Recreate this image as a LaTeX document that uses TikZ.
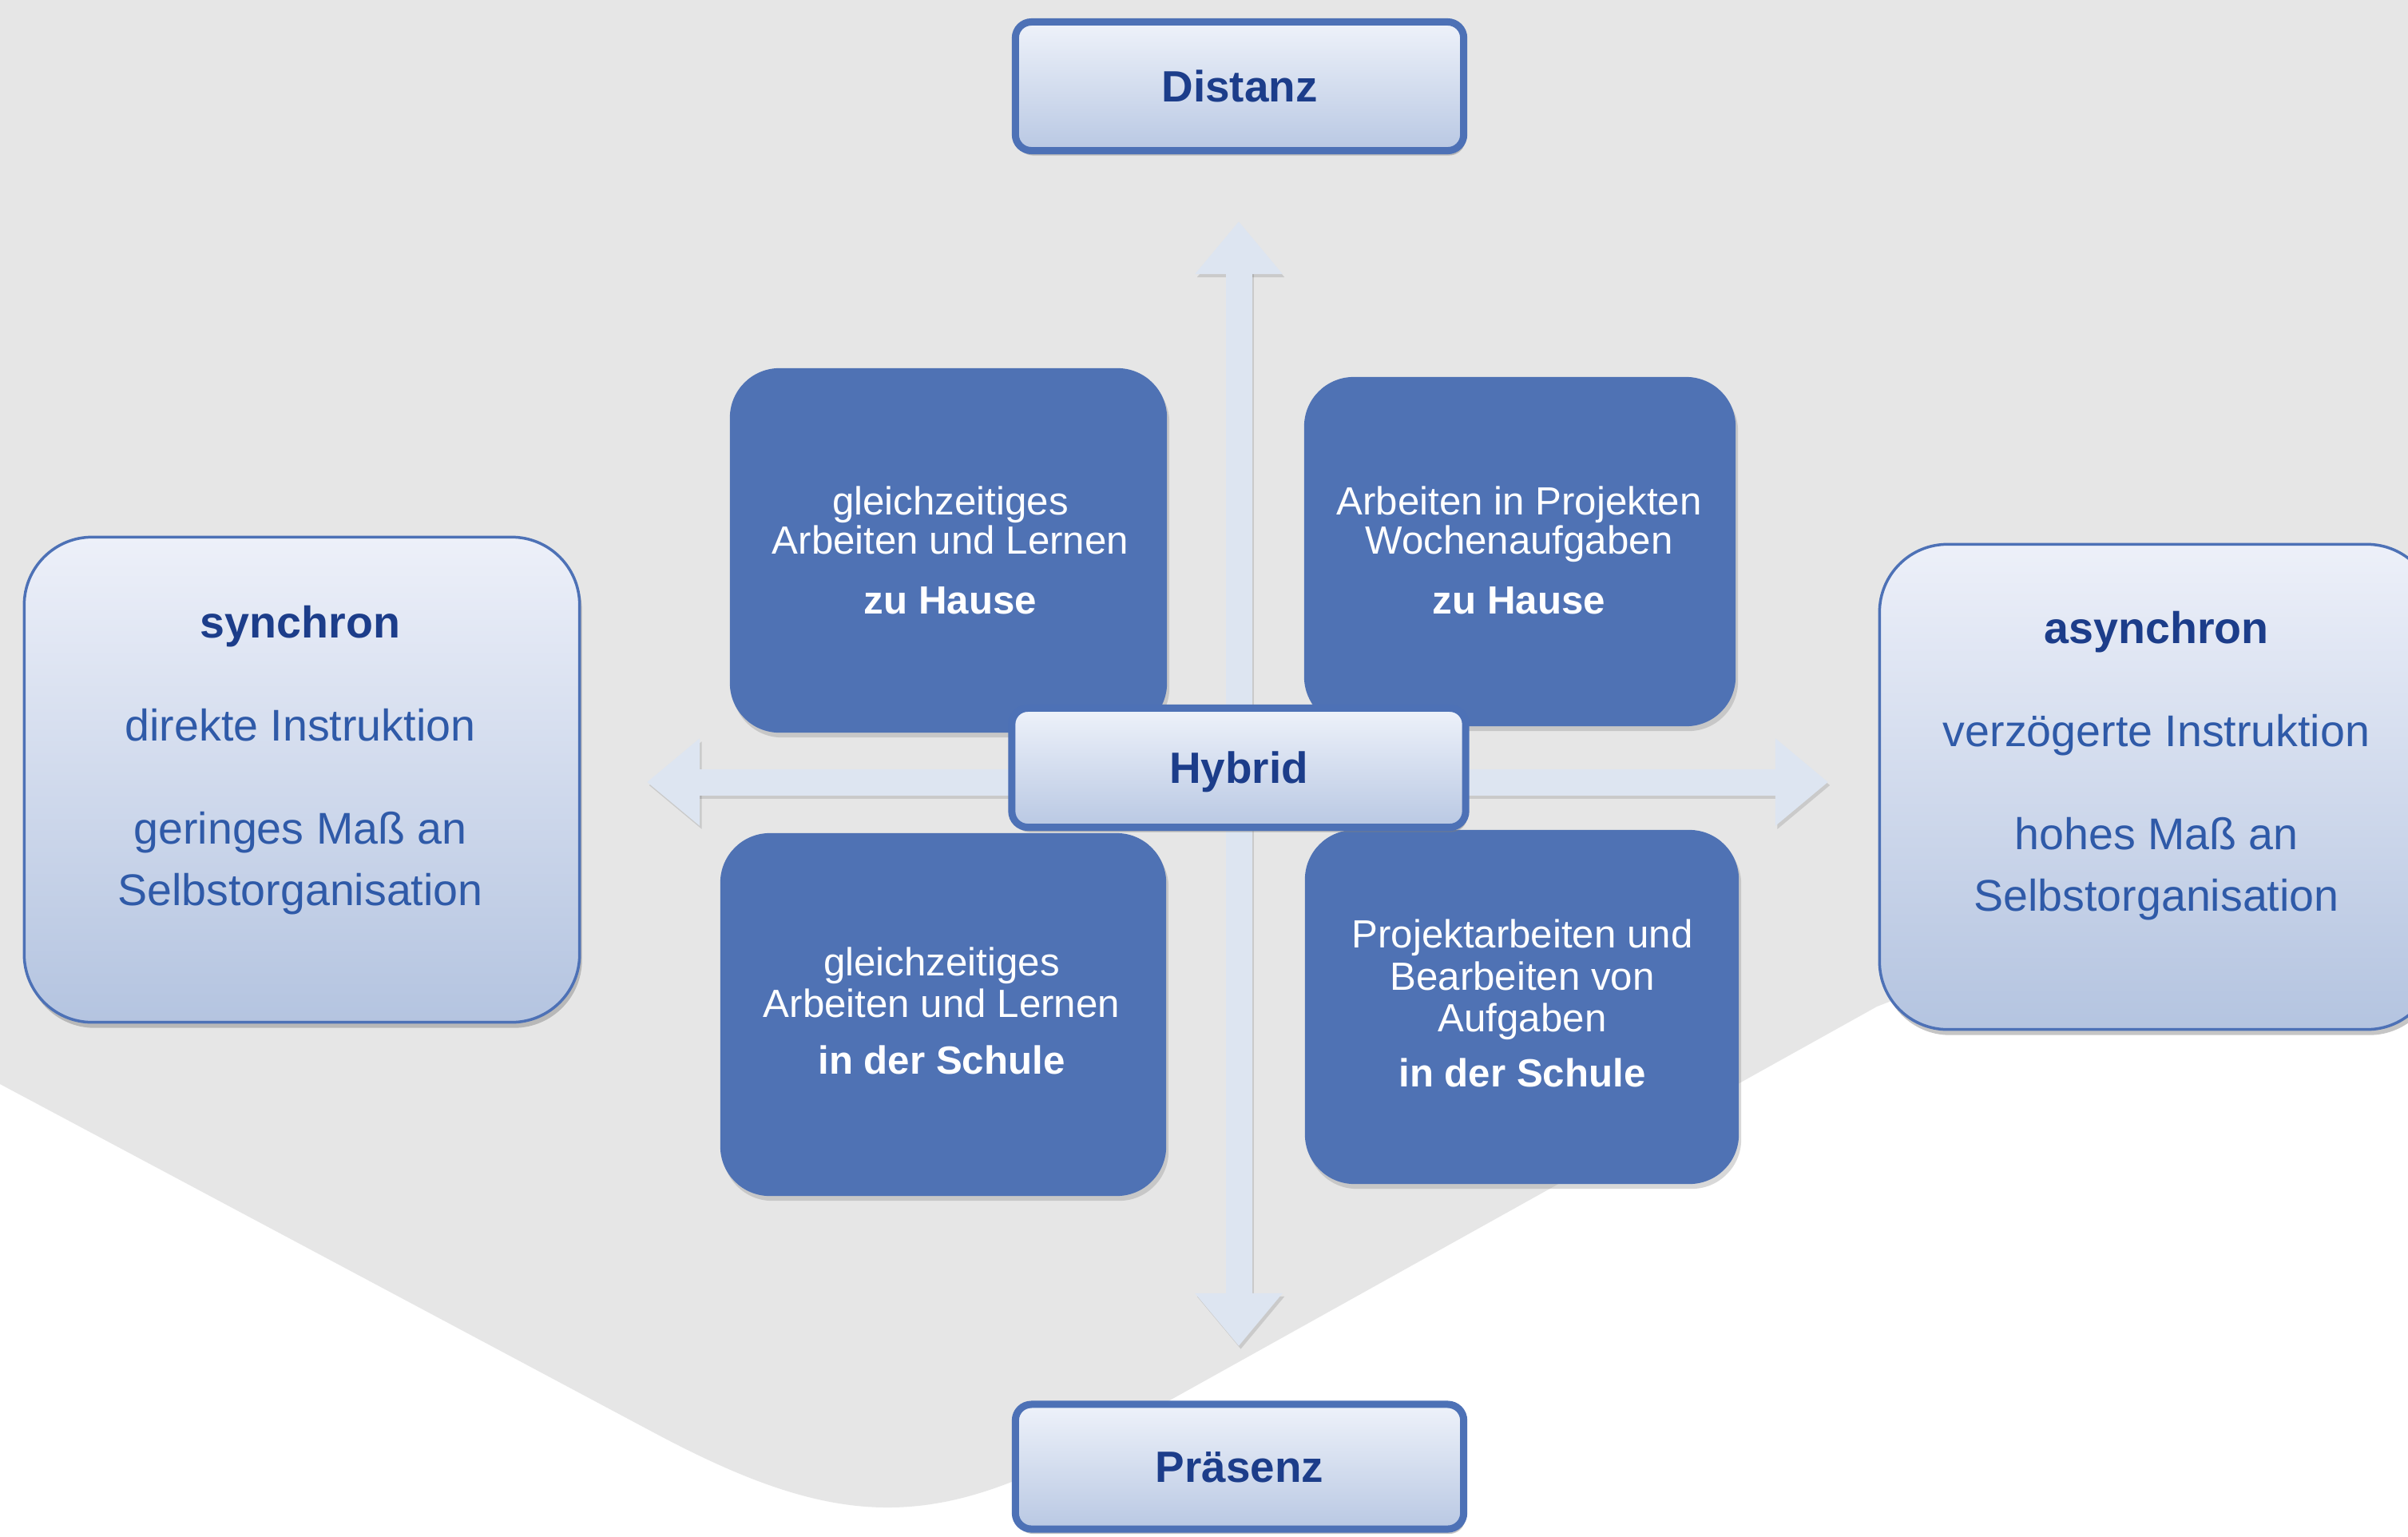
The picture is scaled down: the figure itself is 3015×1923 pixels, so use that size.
\documentclass[tikz,border=0pt]{standalone}
\usepackage{fontspec}
\setmainfont{Liberation Sans}
\usetikzlibrary{shadows,arrows.meta}
\definecolor{bggrey}{HTML}{E6E6E6}
\definecolor{boxblue}{HTML}{4F72B4}
\definecolor{edgeblue}{HTML}{4D71B6}
\definecolor{pilltop}{HTML}{EEF2FA}
\definecolor{pillbot}{HTML}{B9C8E3}
\definecolor{sidetop}{HTML}{EDF0F9}
\definecolor{sidebot}{HTML}{B4C4E0}
\definecolor{headblue}{HTML}{1C3D8A}
\definecolor{bodyblue}{HTML}{2F5AA8}
\definecolor{arrowfill}{HTML}{DDE5F1}
\pgfdeclarelayer{bg}
\pgfdeclarelayer{arr}
\pgfsetlayers{bg,arr,main}
\begin{document}
\begin{tikzpicture}[x=0.01cm,y=-0.01cm,
  pill/.style={draw=edgeblue, line width=0.09cm, rounded corners=0.2cm,
    top color=pilltop, bottom color=pillbot, text=headblue,
    font=\bfseries\fontsize{15.6}{18}\selectfont, minimum width=5.61cm, text depth=0pt,
    drop shadow={shadow xshift=0.02cm, shadow yshift=-0.06cm, opacity=0.45}},
  sidebox/.style={draw=edgeblue, line width=0.035cm, rounded corners=0.85cm,
    top color=sidetop, bottom color=sidebot, minimum width=6.95cm, minimum height=6.07cm,
    drop shadow={shadow xshift=0.03cm, shadow yshift=-0.07cm, opacity=0.45}},
  quad/.style={fill=boxblue, rounded corners=0.62cm,
    drop shadow={shadow xshift=0.03cm, shadow yshift=-0.06cm, opacity=0.3}},
  quadtxt/.style={text=white, align=center, font=\fontsize{14}{14}\selectfont},
  sidetxt/.style={text=bodyblue, align=center, font=\fontsize{15.8}{21.9}\selectfont},
  axis/.style={line width=0.33cm, draw=arrowfill, fill=arrowfill,
    -{Triangle[width=1.05cm,length=0.66cm]}},
  axisshadow/.style={axis, draw=black, fill=black, opacity=0.12,
    transform canvas={shift={(0.025cm,-0.04cm)}}}
]
\useasboundingbox (0,0) rectangle (3015,1923);
\begin{pgfonlayer}{bg}
  \fill[white] (0,0) rectangle (3015,1923);
  \fill[bggrey] (0,0) -- (3015,0) -- (3015,1000) -- (2350,1260) -- (1380,1800)
    .. controls (1171,1917) and (1051,1917) .. (820,1794) -- (0,1357) -- cycle;
\end{pgfonlayer}

% blue quadrant boxes
\node[quad, minimum width=5.47cm, minimum height=4.56cm] (tl) at (1187.5,689) {};
\node[quad, minimum width=5.40cm, minimum height=4.37cm] (tr) at (1903,690.5) {};
\node[quad, minimum width=5.58cm, minimum height=4.54cm] (bl) at (1181,1270) {};
\node[quad, minimum width=5.43cm, minimum height=4.43cm] (br) at (1905.5,1260.5) {};

\node[quadtxt] (tlt) at (1190,689) {gleichzeitiges\\Arbeiten und Lernen\\[7.4pt]\textbf{zu Hause}};
\node[quadtxt] (trt) at (1902,689) {Arbeiten in Projekten\\Wochenaufgaben\\[7.4pt]\textbf{zu Hause}};
\node[quadtxt, font=\fontsize{14}{14.8}\selectfont] (blt) at (1179,1265) {gleichzeitiges\\Arbeiten und Lernen\\[5.4pt]\textbf{in der Schule}};
\node[quadtxt, font=\fontsize{14}{15}\selectfont] (brt) at (1906,1256) {Projektarbeiten und\\Bearbeiten von\\Aufgaben\\[4.6pt]\textbf{in der Schule}};

% centre and axis end boxes
\node[pill, minimum height=1.49cm, minimum width=5.68cm] (hyb) at (1551,961) {Hybrid};
\node[pill, minimum height=1.61cm] (dist) at (1552,108) {Distanz};
\node[pill, minimum height=1.56cm] (praes) at (1552,1836) {Präsenz};

% side boxes
\node[sidebox] (syn) at (378,976) {};
\node[sidetxt] (synt) at (376,952) {\textbf{\textcolor{headblue}{synchron}}\\[14.8pt]direkte Instruktion\\[14.8pt]geringes Maß an\\Selbstorganisation};
\node[sidebox] (asyn) at (2701,985) {};
\node[sidetxt] (asynt) at (2700,959) {\textbf{\textcolor{headblue}{asynchron}}\\[14.8pt]verzögerte Instruktion\\[14.8pt]hohes Maß an\\Selbstorganisation};

% axes
\begin{pgfonlayer}{arr}
  \coordinate (tipN) at (1551,277);
  \coordinate (tipS) at (1551,1685);
  \coordinate (tipW) at (810,979);
  \coordinate (tipE) at (2289,979);
  \draw[axisshadow] (hyb.center) -- (tipN);
  \draw[axisshadow] (hyb.center) -- (tipS);
  \draw[axisshadow] (hyb.center |- tipW) -- (tipW);
  \draw[axisshadow] (hyb.center |- tipE) -- (tipE);
  \draw[axis] (hyb.center) -- (tipN);
  \draw[axis] (hyb.center) -- (tipS);
  \draw[axis] (hyb.center |- tipW) -- (tipW);
  \draw[axis] (hyb.center |- tipE) -- (tipE);
\end{pgfonlayer}
\end{tikzpicture}
\end{document}
